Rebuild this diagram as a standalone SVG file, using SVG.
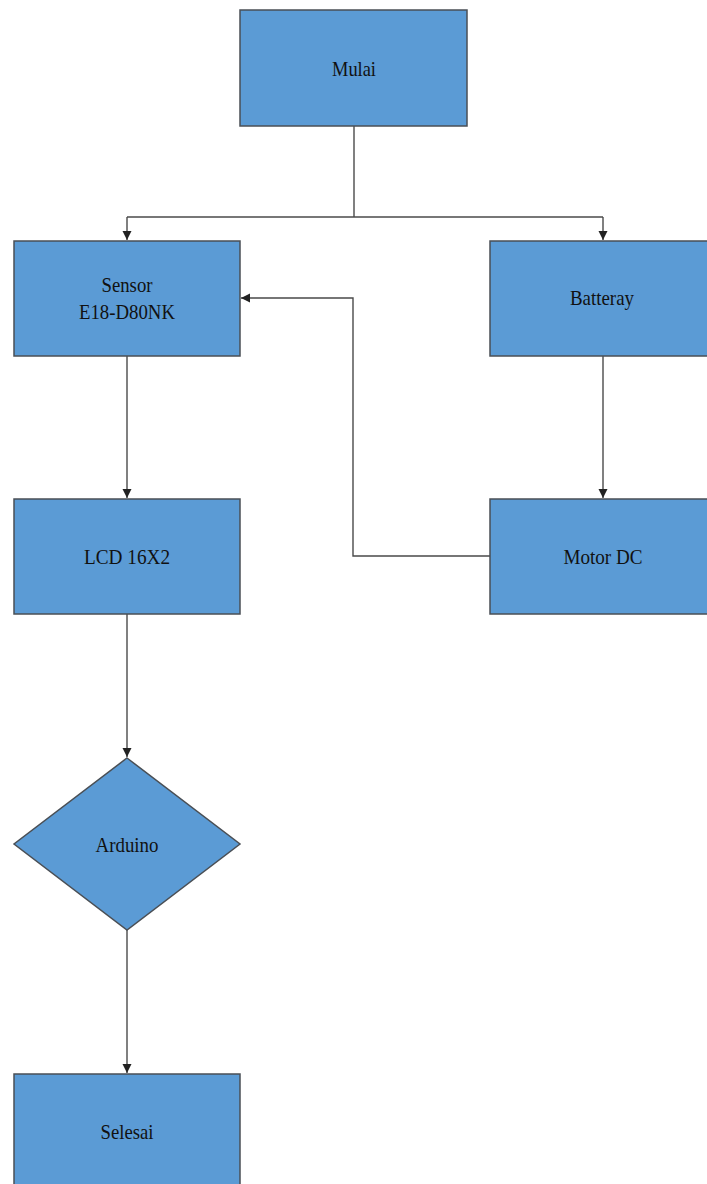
<svg xmlns="http://www.w3.org/2000/svg" width="707" height="1184" viewBox="0 0 707 1184">
<style>
.box{fill:#5B9BD5;stroke:#4a4f55;stroke-width:1.5}
.lbl{font-family:"Liberation Serif",serif;font-size:21px;fill:#111;text-anchor:middle}
.con{fill:none;stroke:#4a4a4a;stroke-width:1.4}
</style>
<defs>
<marker id="arr" markerWidth="10" markerHeight="10" refX="9" refY="5" orient="auto" markerUnits="userSpaceOnUse">
<path d="M0,0.5 L9,5 L0,9.5 Z" fill="#222"/>
</marker>
</defs>
<rect width="707" height="1184" fill="#fff"/>
<g id="connectors">
<path class="con" d="M354,126 V217"/>
<path class="con" d="M127,217 H603"/>
<path class="con" d="M127,217 V240" marker-end="url(#arr)"/>
<path class="con" d="M603,217 V240" marker-end="url(#arr)"/>
<path class="con" d="M127,356 V498" marker-end="url(#arr)"/>
<path class="con" d="M603,356 V498" marker-end="url(#arr)"/>
<path class="con" d="M490,556 H353 V298 H241" marker-end="url(#arr)"/>
<path class="con" d="M127,614 V757" marker-end="url(#arr)"/>
<path class="con" d="M127,930 V1073" marker-end="url(#arr)"/>
</g>
<g id="mulai">
<rect class="box" x="240" y="10" width="227" height="116"/>
<text class="lbl" x="354" y="76" textLength="44" lengthAdjust="spacingAndGlyphs">Mulai</text>
</g>
<g id="sensor">
<rect class="box" x="14" y="241" width="226" height="115"/>
<text class="lbl" x="127" y="292" textLength="51" lengthAdjust="spacingAndGlyphs">Sensor</text>
<text class="lbl" x="127" y="319" textLength="96" lengthAdjust="spacingAndGlyphs">E18-D80NK</text>
</g>
<g id="batteray">
<rect class="box" x="490" y="241" width="222" height="115"/>
<text class="lbl" x="602" y="305" textLength="64" lengthAdjust="spacingAndGlyphs">Batteray</text>
</g>
<g id="lcd">
<rect class="box" x="14" y="499" width="226" height="115"/>
<text class="lbl" x="127" y="564" textLength="86" lengthAdjust="spacingAndGlyphs">LCD 16X2</text>
</g>
<g id="motor">
<rect class="box" x="490" y="499" width="222" height="115"/>
<text class="lbl" x="603" y="564" textLength="79" lengthAdjust="spacingAndGlyphs">Motor DC</text>
</g>
<g id="arduino">
<polygon class="box" points="127,758 240,844 127,930 14,844"/>
<text class="lbl" x="127" y="852" textLength="63" lengthAdjust="spacingAndGlyphs">Arduino</text>
</g>
<g id="selesai">
<rect class="box" x="14" y="1074" width="226" height="120"/>
<text class="lbl" x="127" y="1139" textLength="53" lengthAdjust="spacingAndGlyphs">Selesai</text>
</g>
</svg>
